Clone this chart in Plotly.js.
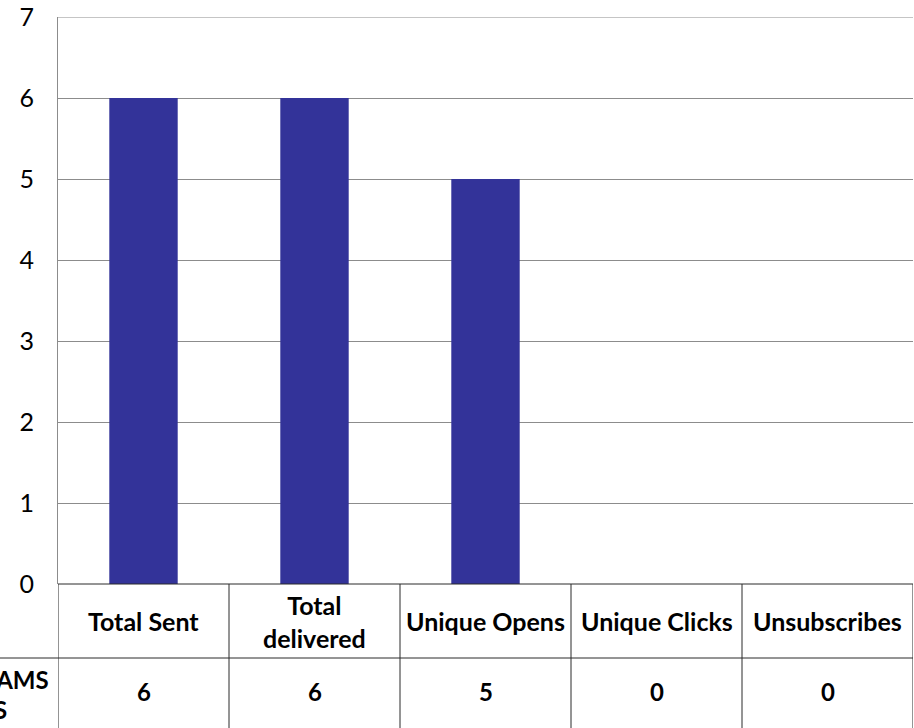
<!DOCTYPE html>
<html>
<head>
<meta charset="utf-8">
<script src="https://cdn.plot.ly/plotly-3.0.1.min.js"></script>
<style>html,body{margin:0;padding:0;background:#fff;}#chart{width:914px;height:728px;}</style>
</head>
<body>
<div id="chart"></div>
<script>
const categories = ["Total Sent", "Total<br>delivered", "Unique Opens", "Unique Clicks", "Unsubscribes"];
const values = [6, 6, 5, 0, 0];
const seriesNameLines = ["EMAIL PROGRAMS", "RESULTS"];
const yTicks = [0, 1, 2, 3, 4, 5, 6, 7];

const FONT = "Lato, 'Noto Sans', sans-serif";
const plotH = 567, plotW = 855;
const py = p => -p / plotH; // pixels below plot bottom -> paper y
const pxl = p => -p / plotW; // pixels left of plot -> paper x

const shapes = [];
const annotations = [];
const lineDark = {color: "#2a2a2a", width: 1};

// top gridline at max
shapes.push({type: "line", xref: "paper", yref: "y", x0: 0, x1: 1, y0: 7, y1: 7, line: {color: "#8c8c8c", width: 1}});
// table top (x-axis line)
shapes.push({type: "line", xref: "paper", yref: "paper", x0: 0, x1: 1, y0: 0, y1: 0, line: lineDark});
// row separator (extends to the left under the series label)
shapes.push({type: "line", xref: "paper", yref: "paper", x0: -0.07, x1: 1, y0: py(74), y1: py(74), line: lineDark});
// vertical cell borders
for (let i = 0; i <= categories.length; i++) {
  shapes.push({type: "line", xref: "x", yref: "paper", x0: i - 0.5, x1: i - 0.5, y0: 0, y1: py(150), line: lineDark});
}

categories.forEach((c, i) => {
  annotations.push({xref: "x", yref: "paper", x: i, y: py(37), text: "<b>" + c + "</b>", showarrow: false,
    xanchor: "center", yanchor: "middle", align: "center", font: {family: FONT, size: 25, color: "#000"}});
  annotations.push({xref: "x", yref: "paper", x: i, y: py(107), text: "<b>" + values[i] + "</b>", showarrow: false,
    xanchor: "center", yanchor: "middle", font: {family: FONT, size: 24, color: "#000"}});
});
// series label, centred in a cell that extends past the left edge of the picture
annotations.push({xref: "paper", yref: "paper", x: pxl(7), y: py(95), text: "<b>" + seriesNameLines[0] + "</b>", showarrow: false,
  xanchor: "right", yanchor: "middle", font: {family: FONT, size: 24, color: "#000"}});
annotations.push({xref: "paper", yref: "paper", x: pxl(49), y: py(125), text: "<b>" + seriesNameLines[1] + "</b>", showarrow: false,
  xanchor: "right", yanchor: "middle", font: {family: FONT, size: 24, color: "#000"}});

const trace = {
  type: "bar",
  x: categories,
  y: values,
  marker: {color: "#333399", line: {width: 0}},
  hoverinfo: "none"
};

const layout = {
  width: 914, height: 728,
  margin: {l: 58, r: 1, t: 17, b: 144, pad: 0},
  paper_bgcolor: "#fff", plot_bgcolor: "#fff",
  bargap: 0.6,
  showlegend: false,
  font: {family: FONT, color: "#000"},
  xaxis: {type: "category", range: [-0.5, 4.5], showticklabels: false, showgrid: false, zeroline: false, showline: false, ticks: ""},
  yaxis: {range: [0, 7], tickvals: yTicks, ticktext: yTicks.map(String), showgrid: true, gridcolor: "#8c8c8c", gridwidth: 1,
    zeroline: false, showline: true, linecolor: "#8c8c8c", linewidth: 1, ticks: "", ticklabelstandoff: 18,
    tickfont: {family: FONT, size: 25, color: "#000"}},
  shapes: shapes,
  annotations: annotations
};

Plotly.newPlot("chart", [trace], layout, {staticPlot: true, displayModeBar: false});
</script>
</body>
</html>
